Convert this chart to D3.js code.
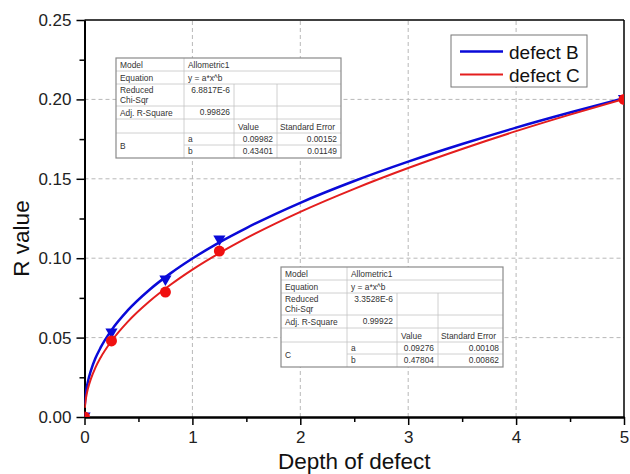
<!DOCTYPE html>
<html><head><meta charset="utf-8">
<script src="https://cdn.jsdelivr.net/npm/d3@7"></script>
<style>body{margin:0;background:#fff} svg{display:block;font-family:"Liberation Sans",Arial,sans-serif}</style>
</head><body><svg id="c" width="630" height="474"></svg>
<script>
// ---- data ----
const xTicks = [0, 1, 2, 3, 4, 5];
const xMinor = [0.5, 1.5, 2.5, 3.5, 4.5];
const yTicks = [0, 0.05, 0.10, 0.15, 0.20, 0.25];
const yMinor = [0.025, 0.075, 0.125, 0.175, 0.225];
const yTickLabels = ["0.00", "0.05", "0.10", "0.15", "0.20", "0.25"];
const seriesNames = ["defect B", "defect C"];
const pointX = [0, 0.25, 0.75, 1.25, 5];
const pointB = [0, 0.0529, 0.0863, 0.1115, 0.200];
const pointC = [0, 0.0479, 0.0787, 0.1045, 0.200];
const curveX = [0.003, 0.01, 0.02, 0.03, 0.06, 0.1, 0.15, 0.25, 0.4, 0.6, 0.8, 1, 1.25, 1.5, 2, 2.5, 3, 3.5, 4, 4.5, 5];
const curveB = [0.0080, 0.0135, 0.0183, 0.0218, 0.0294, 0.0368, 0.0438, 0.0547, 0.0671, 0.0800, 0.0906, 0.0998, 0.1100, 0.1190, 0.1349, 0.1486, 0.1608, 0.1719, 0.1822, 0.1917, 0.2007];
const curveC = [0.0058, 0.0103, 0.0143, 0.0174, 0.0242, 0.0309, 0.0375, 0.0478, 0.0599, 0.0727, 0.0834, 0.0928, 0.1032, 0.1126, 0.1292, 0.1437, 0.1568, 0.1688, 0.1800, 0.1904, 0.2002];
const fitModel = "Allometric1";
const fitEquation = "y = a*x^b";
const fitStatsB = ["6.8817E-6", "0.99826"];
const fitStatsC = ["3.3528E-6", "0.99922"];
const fitParamsB = [["a", "0.09982", "0.00152"], ["b", "0.43401", "0.01149"]];
const fitParamsC = [["a", "0.09276", "0.00108"], ["b", "0.47804", "0.00862"]];

// ---- drawing ----
const svg = d3.select("#c");
const x = d3.scaleLinear().domain([0, 5]).range([84.5, 624]);
const y = d3.scaleLinear().domain([0, 0.25]).range([417, 20]);
const blue = "#0a0ad8", red = "#e41e1e";

svg.append("defs").append("clipPath").attr("id", "clip")
  .append("rect").attr("x", x(0)).attr("y", y(0.25)).attr("width", x(5) - x(0)).attr("height", y(0) - y(0.25));

// grid
const grid = svg.append("g").attr("stroke", "#b8b8b8").attr("stroke-width", 1).attr("stroke-dasharray", "4,3");
grid.selectAll("line.gx").data(xTicks.filter(d => d > 0 && d < 5)).join("line")
  .attr("x1", d => x(d)).attr("x2", d => x(d)).attr("y1", y(0)).attr("y2", y(0.25));
grid.selectAll("line.gy").data(yTicks.filter(d => d > 0 && d < 0.25)).join("line")
  .attr("y1", d => y(d)).attr("y2", d => y(d)).attr("x1", x(0)).attr("x2", x(5));

// frame top/right
svg.append("line").attr("x1", x(0)).attr("x2", x(5)).attr("y1", y(0.25)).attr("y2", y(0.25)).attr("stroke", "#000").attr("stroke-width", 1.5);
svg.append("line").attr("x1", x(5)).attr("x2", x(5)).attr("y1", y(0.25)).attr("y2", y(0)).attr("stroke", "#000").attr("stroke-width", 1.5);

// axes
function styleAxis(g) {
  g.select(".domain").attr("stroke-width", 2).attr("stroke", "#000");
  g.selectAll(".tick line").attr("stroke-width", 1.5).attr("stroke", "#000");
  g.selectAll(".tick text").attr("font-size", 17).attr("fill", "#222").attr("font-family", "Liberation Sans, Arial, sans-serif");
}
svg.append("g").attr("transform", `translate(0,${y(0)})`)
  .call(d3.axisBottom(x).tickValues(xMinor).tickSize(5).tickFormat("").tickSizeOuter(0)).call(styleAxis);
svg.append("g").attr("transform", `translate(${x(0)},0)`)
  .call(d3.axisLeft(y).tickValues(yMinor).tickSize(5).tickFormat("").tickSizeOuter(0)).call(styleAxis);
svg.append("g").attr("transform", `translate(0,${y(0)})`)
  .call(d3.axisBottom(x).tickValues(xTicks).tickSize(8).tickPadding(6).tickSizeOuter(0).tickFormat(d3.format("d"))).call(styleAxis);
svg.append("g").attr("transform", `translate(${x(0)},0)`)
  .call(d3.axisLeft(y).tickValues(yTicks).tickSize(8).tickPadding(5).tickSizeOuter(0).tickFormat((d, i) => yTickLabels[i])).call(styleAxis);

// axis titles
svg.append("text").attr("x", (x(0) + x(5)) / 2).attr("y", 469).attr("text-anchor", "middle")
  .attr("font-size", 22.5).attr("fill", "#111").text("Depth of defect");
svg.append("text").attr("transform", `translate(29,${(y(0) + y(0.25)) / 2 + 20}) rotate(-90)`).attr("text-anchor", "middle")
  .attr("font-size", 22.5).attr("fill", "#111").text("R value");

// curves
const line = d3.line().x(d => x(d[0])).y(d => y(d[1])).curve(d3.curveMonotoneX);
const plot = svg.append("g").attr("clip-path", "url(#clip)");
plot.append("path").datum(curveX.map((v, i) => [v, curveB[i]])).attr("d", line)
  .attr("fill", "none").attr("stroke", blue).attr("stroke-width", 2.5);
plot.append("path").datum(curveX.map((v, i) => [v, curveC[i]])).attr("d", line)
  .attr("fill", "none").attr("stroke", red).attr("stroke-width", 2);

// markers
const tri = d3.symbol().type(d3.symbolTriangle).size(64);
plot.selectAll("path.tb").data(pointX.map((v, i) => [v, pointB[i]])).join("path")
  .attr("d", tri).attr("transform", d => `translate(${x(d[0])},${y(d[1]) - 1}) rotate(180)`).attr("fill", blue);
plot.selectAll("circle.pc").data(pointX.map((v, i) => [v, pointC[i]])).join("circle")
  .attr("cx", d => x(d[0])).attr("cy", d => y(d[1])).attr("r", 5.5).attr("fill", "#f01010");

// tables
const rowsRel = [0, 13, 26, 48, 61, 75, 87, 100];
function drawTable(x0, y0, cols, name, stats, params) {
  const g = svg.append("g").attr("font-size", 8.4).attr("fill", "#333");
  const W = cols[4], H = rowsRel[7];
  g.append("rect").attr("x", x0).attr("y", y0).attr("width", W).attr("height", H).attr("fill", "#fff").attr("stroke", "none");
  const L = g.append("g").attr("stroke", "#c4c4c4").attr("stroke-width", 0.8);
  [1, 2, 3, 4, 5].forEach(r => L.append("line").attr("x1", x0).attr("x2", x0 + W).attr("y1", y0 + rowsRel[r]).attr("y2", y0 + rowsRel[r]));
  L.append("line").attr("x1", x0 + cols[1]).attr("x2", x0 + W).attr("y1", y0 + rowsRel[6]).attr("y2", y0 + rowsRel[6]);
  L.append("line").attr("x1", x0 + cols[1]).attr("x2", x0 + cols[1]).attr("y1", y0).attr("y2", y0 + H);
  [2, 3].forEach(c => L.append("line").attr("x1", x0 + cols[c]).attr("x2", x0 + cols[c]).attr("y1", y0 + rowsRel[2]).attr("y2", y0 + H));
  g.append("rect").attr("x", x0).attr("y", y0).attr("width", W).attr("height", H).attr("fill", "none").attr("stroke", "#8a8a8a").attr("stroke-width", 1.2);
  const T = (tx, ty, s, anchor) => g.append("text").attr("x", tx).attr("y", ty).attr("text-anchor", anchor || "start").attr("stroke", "none").text(s);
  const p = 4;
  T(x0 + p, y0 + rowsRel[0] + 9.5, "Model");
  T(x0 + cols[1] + p, y0 + rowsRel[0] + 9.5, fitModel);
  T(x0 + p, y0 + rowsRel[1] + 9.5, "Equation");
  T(x0 + cols[1] + p, y0 + rowsRel[1] + 9.5, fitEquation);
  T(x0 + p, y0 + rowsRel[2] + 9, "Reduced");
  T(x0 + p, y0 + rowsRel[2] + 18.5, "Chi-Sqr");
  T(x0 + cols[2] - p, y0 + rowsRel[2] + 9, stats[0], "end");
  T(x0 + p, y0 + rowsRel[3] + 9.5, "Adj. R-Square");
  T(x0 + cols[2] - p, y0 + rowsRel[3] + 8.5, stats[1], "end");
  T(x0 + cols[2] + p, y0 + rowsRel[4] + 10.5, "Value");
  T(x0 + cols[3] + 3, y0 + rowsRel[4] + 10.5, "Standard Error");
  T(x0 + p, y0 + (rowsRel[5] + rowsRel[7]) / 2 + 3, name);
  params.forEach((pr, i) => {
    const ty = y0 + rowsRel[5 + i] + 9;
    T(x0 + cols[1] + p, ty, pr[0]);
    T(x0 + cols[3] - p, ty, pr[1], "end");
    T(x0 + cols[4] - p, ty, pr[2], "end");
  });
}
drawTable(116, 58, [0, 68, 118, 161, 225], "B", fitStatsB, fitParamsB);
drawTable(281, 267, [0, 66, 116, 157, 222], "C", fitStatsC, fitParamsC);

// legend
const lg = svg.append("g");
lg.append("rect").attr("x", 451).attr("y", 35).attr("width", 136).attr("height", 52).attr("fill", "#fff").attr("stroke", "#777").attr("stroke-width", 1);
[[blue, 2.5], [red, 2]].forEach((c, i) => {
  const ly = 51.5 + i * 23;
  lg.append("line").attr("x1", 460).attr("x2", 503).attr("y1", ly).attr("y2", ly).attr("stroke", c[0]).attr("stroke-width", c[1]);
  lg.append("text").attr("x", 509).attr("y", ly + 7).attr("font-size", 19).attr("fill", "#111").text(seriesNames[i]);
});
</script></body></html>
